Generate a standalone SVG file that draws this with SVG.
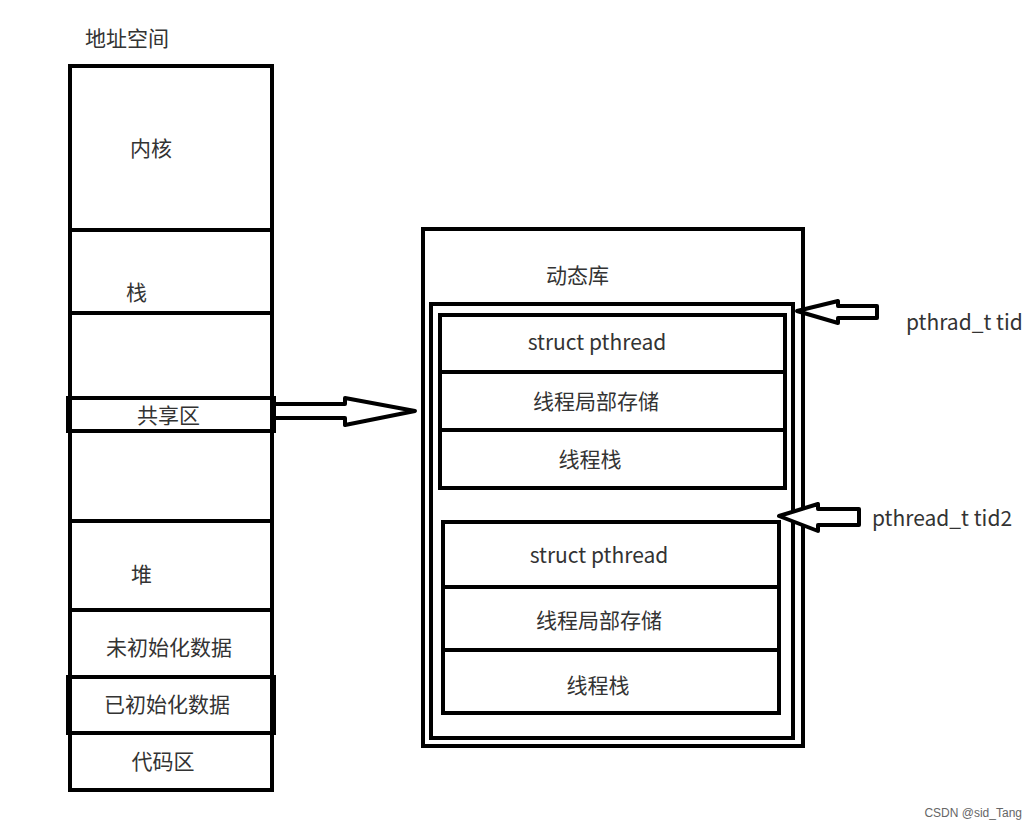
<svg xmlns="http://www.w3.org/2000/svg" width="1036" height="826" viewBox="0 0 1036 826">
<style>
.b{fill:none;stroke:#000;stroke-width:4}
.t{font-family:"Noto Sans CJK SC","Open Sans",sans-serif;font-size:21px;fill:#333}
.c{text-anchor:middle}
.a{fill:#fff;stroke:#000;stroke-width:4;stroke-linejoin:round}
</style>
<rect width="1036" height="826" fill="#fff"/>
<text class="t" x="85" y="46">地址空间</text>
<g id="addr">
<rect class="b" x="70" y="66" width="202" height="724"/>
<line class="b" x1="70" y1="230" x2="272" y2="230"/>
<line class="b" x1="70" y1="313" x2="272" y2="313"/>
<rect class="b" x="68" y="398" width="206" height="33"/>
<line class="b" x1="70" y1="521" x2="272" y2="521"/>
<line class="b" x1="70" y1="610" x2="272" y2="610"/>
<rect class="b" x="68" y="677" width="206" height="56"/>
<text class="t" x="130" y="156">内核</text>
<text class="t" x="126" y="300">栈</text>
<text class="t" x="137" y="423">共享区</text>
<text class="t" x="131" y="582">堆</text>
<text class="t c" x="169" y="655">未初始化数据</text>
<text class="t c" x="167" y="712">已初始化数据</text>
<text class="t c" x="163" y="769">代码区</text>
</g>
<g id="lib">
<rect class="b" x="423" y="229" width="380" height="517"/>
<rect class="b" x="431" y="304" width="362" height="434"/>
<text class="t" x="546" y="283">动态库</text>
</g>
<g id="thread1">
<rect class="b" x="440" y="315" width="345" height="173"/>
<line class="b" x1="440" y1="372" x2="785" y2="372"/>
<line class="b" x1="440" y1="430" x2="785" y2="430"/>
<text class="t c" x="597" y="350">struct pthread</text>
<text class="t c" x="596" y="409">线程局部存储</text>
<text class="t c" x="590" y="467">线程栈</text>
</g>
<g id="thread2">
<rect class="b" x="443" y="522" width="336" height="191"/>
<line class="b" x1="443" y1="587" x2="779" y2="587"/>
<line class="b" x1="443" y1="650" x2="779" y2="650"/>
<text class="t c" x="599" y="563">struct pthread</text>
<text class="t c" x="599" y="628">线程局部存储</text>
<text class="t c" x="598" y="693">线程栈</text>
</g>
<text class="t" x="906" y="330">pthrad_t tid</text>
<text class="t" x="872" y="526">pthread_t tid2</text>
<g id="connectors">
<path class="a" d="M274 404 H345 V398 L415 411 L345 425 V418 H274 Z"/>
<path class="a" d="M797 311 L838 301 V306 H877 V318 H838 V323 Z"/>
<path class="a" d="M779 516 L818 504 V509 H859 V525 H818 V531 Z"/>
</g>
<text x="1022" y="817" text-anchor="end" style="font-family:'Liberation Sans',sans-serif;font-size:12px;fill:#666">CSDN @sid_Tang</text>
</svg>
